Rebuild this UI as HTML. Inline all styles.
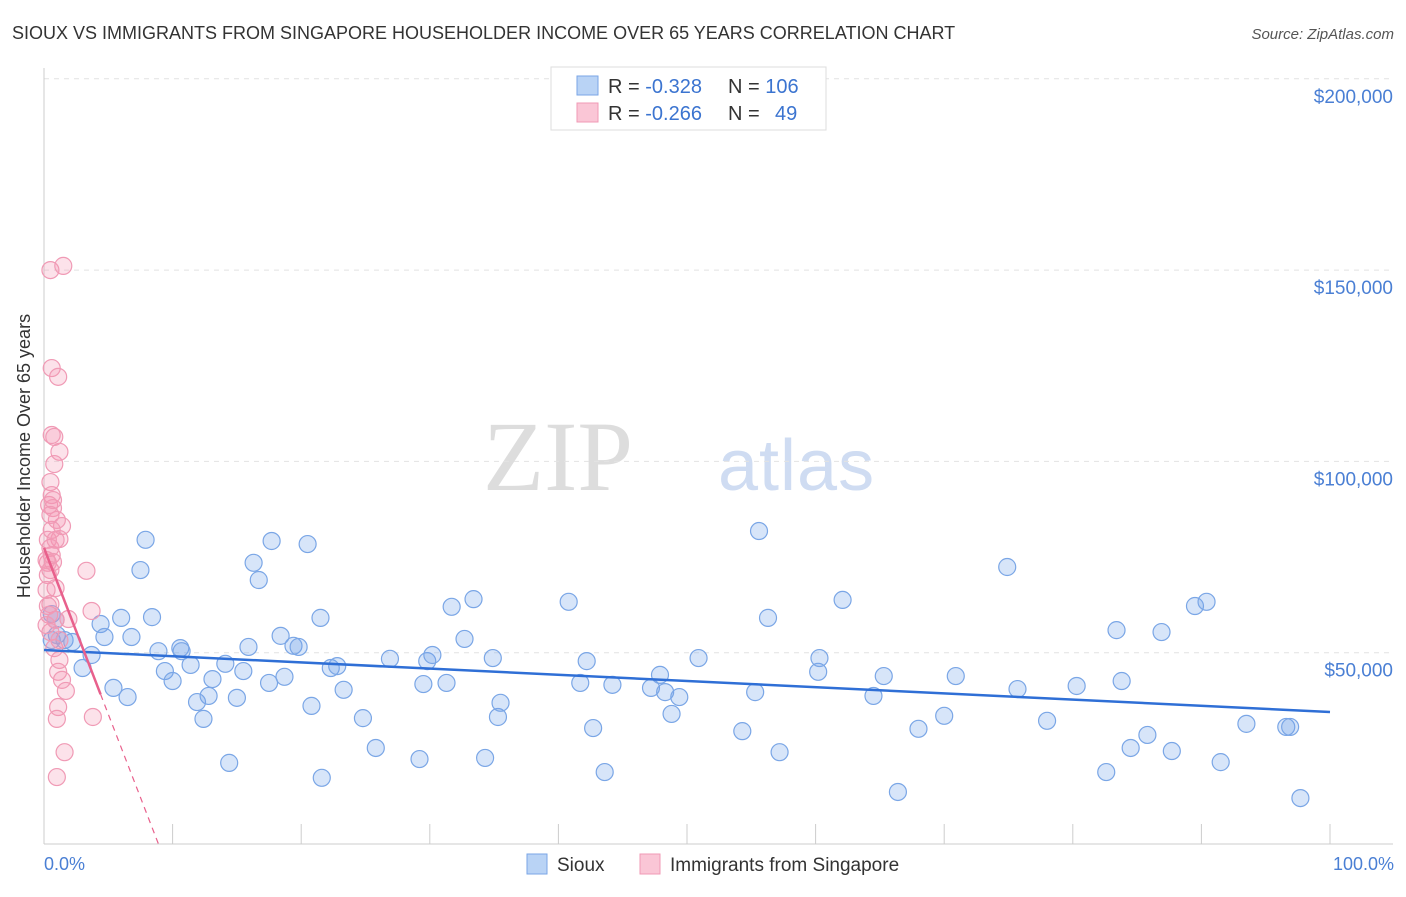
<!DOCTYPE html>
<html><head><meta charset="utf-8"><style>
body{margin:0;background:#fff;font-family:"Liberation Sans",sans-serif}
svg text{font-family:"Liberation Sans",sans-serif}
</style></head><body>
<svg id="chart" width="1406" height="892">
<text x="12" y="39" font-size="18" fill="#333">SIOUX VS IMMIGRANTS FROM SINGAPORE HOUSEHOLDER INCOME OVER 65 YEARS CORRELATION CHART</text>
<text x="1394" y="39" font-size="15" fill="#555" font-style="italic" text-anchor="end">Source: ZipAtlas.com</text>
<g>
<text x="633" y="490" font-size="100" fill="#ddd" text-anchor="end" font-family="Liberation Serif" style="font-family:'Liberation Serif',serif">ZIP</text>
<text x="718" y="490" font-size="72" fill="#cfdcf2" style="letter-spacing:1px">atlas</text>
</g>
<g id="grid"></g><g id="axes"></g><g id="marks"></g>
<text x="30" y="456" font-size="18" fill="#333" text-anchor="middle" transform="rotate(-90 30 456)">Householder Income Over 65 years</text>
<text x="44" y="870" font-size="18" fill="#4a7fd4">0.0%</text>
<text x="1394" y="870" font-size="18" fill="#4a7fd4" text-anchor="end">100.0%</text>
<g>
<rect x="551" y="67" width="275" height="63" fill="#fff" stroke="#ddd"/>
<rect x="577" y="76" width="21" height="19" fill="#b9d3f5" stroke="#7aa6e6"/>
<rect x="577" y="103" width="21" height="19" fill="#fac6d6" stroke="#f09ab5"/>
<text x="608" y="93" font-size="20" fill="#333">R = <tspan fill="#3b74d0">-0.328</tspan><tspan x="728">N = </tspan><tspan fill="#3b74d0">106</tspan></text>
<text x="608" y="120" font-size="20" fill="#333">R = <tspan fill="#3b74d0">-0.266</tspan><tspan x="728">N = </tspan><tspan fill="#3b74d0" x="775">49</tspan></text>
</g>
<g>
<rect x="527" y="854" width="20" height="20" fill="#b9d3f5" stroke="#7aa6e6"/>
<text x="557" y="871" font-size="19" fill="#333">Sioux</text>
<rect x="640" y="854" width="20" height="20" fill="#fac6d6" stroke="#f09ab5"/>
<text x="670" y="871" font-size="19" fill="#333">Immigrants from Singapore</text>
</g>
</svg>
<script>
const yTicks=[50000,100000,150000,200000];
const yTickLabels=["$50,000","$100,000","$150,000","$200,000"];
const xTicks=[0,10,20,30,40,50,60,70,80,90,100];
const siouxX=[0.6,1.0,1.6,2.2,3.0,3.7,4.4,4.7,5.4,6.0,6.5,6.8,7.5,7.9,8.4,8.9,9.4,10.0,10.6,10.7,11.4,11.9,12.4,12.8,13.1,14.1,14.4,15.0,15.5,15.9,16.3,16.7,17.5,17.7,18.4,18.7,19.4,19.8,20.5,20.8,21.5,21.6,22.3,22.8,23.3,24.8,25.8,26.9,29.2,29.5,29.8,30.2,31.3,31.7,32.7,33.4,34.3,34.9,35.3,35.5,40.8,41.7,42.2,42.7,43.6,44.2,47.2,47.9,48.3,48.8,49.4,50.9,54.3,55.3,55.6,56.3,57.2,60.2,60.3,62.1,64.5,65.3,66.4,68.0,70.0,70.9,74.9,75.7,78.0,80.3,82.6,83.4,83.8,84.5,85.8,86.9,87.7,89.5,90.4,91.5,93.5,96.6,96.9,97.7,0.6,0.9];
const siouxY=[53.3,54.6,53.3,52.8,46.0,49.4,57.5,54.1,40.8,59.1,38.4,54.1,71.6,79.5,59.3,50.4,45.2,42.6,51.2,50.4,46.8,37.1,32.7,38.7,43.1,47.1,21.2,38.2,45.2,51.5,73.5,69.0,42.1,79.2,54.4,43.7,51.8,51.5,78.4,36.1,59.1,17.3,46.0,46.5,40.3,32.9,25.1,48.4,22.2,41.8,47.8,49.4,42.1,62.0,53.6,64.0,22.5,48.6,33.2,36.9,63.3,42.1,47.8,30.3,18.8,41.6,40.8,44.2,39.7,34.0,38.4,48.6,29.5,39.7,81.8,59.1,24.0,45.0,48.6,63.8,38.7,43.9,13.6,30.1,33.5,43.9,72.4,40.5,32.2,41.3,18.8,55.9,42.6,25.1,28.5,55.4,24.3,62.2,63.3,21.4,31.4,30.6,30.6,12.0,60.1,58.6];
const singX=[0.5,1.5,0.6,1.1,0.6,0.8,1.2,0.8,0.5,0.6,0.4,0.7,1.4,1.0,1.2,0.3,0.5,0.6,0.3,0.7,0.3,3.3,0.9,3.7,0.5,0.9,1.9,0.5,0.8,1.2,1.1,1.4,1.7,1.1,1.0,3.8,1.6,1.0,0.3,0.2,0.6,0.9,0.2,0.4,1.2,0.2,0.5,0.7,0.5];
const singY=[150.0,151.1,124.4,122.1,106.9,106.4,102.5,99.3,94.6,91.2,88.6,87.8,83.1,84.7,79.7,79.5,77.4,75.5,73.5,73.7,70.3,71.4,66.9,60.9,62.7,58.6,58.8,55.4,51.2,53.3,45.0,42.9,40.0,35.8,32.7,33.2,24.0,17.5,62.2,74.2,82.1,79.5,66.4,59.9,48.1,57.2,71.6,89.9,86.0];
const siouxTrend=[50.7,34.5]; // value at 0% and 100% (k$)
const singTrend=[77.4,0,8.9,4.4]; // value at 0%, zero at x%, solid until x%
const X=p=>44+p*12.86, Y=v=>844-v*3.826; // v in $k
const ns="http://www.w3.org/2000/svg";
function el(t,a,parent){const e=document.createElementNS(ns,t);for(const k in a)e.setAttribute(k,a[k]);document.getElementById(parent).appendChild(e);return e;}
yTicks.forEach((t,i)=>{
 const g=el('line',{x1:44,x2:1393,y1:Y(t/1000),y2:Y(t/1000),stroke:'#e2e2e2','stroke-dasharray':'5,5'},'grid');
 
 
 const tx=el('text',{x:1393,y:Y(t/1000)+24,'font-size':19,fill:'#4a7fd4','text-anchor':'end'},'axes');
 tx.textContent=yTickLabels[i];
 
 
});
const ax=el('line',{x1:44,x2:44,y1:68,y2:844,stroke:'#ccc'},'axes');


const bx=el('line',{x1:44,x2:1393,y1:844,y2:844,stroke:'#ccc'},'axes');


xTicks.forEach(t=>{const l=el('line',{x1:X(t),x2:X(t),y1:824,y2:844,stroke:'#ccc'},'axes');
 
 });
siouxX.forEach((x,i)=>{const c=el('circle',{cx:X(x),cy:Y(siouxY[i]),r:8.5,fill:'rgba(110,160,235,0.28)',stroke:'#7aa6e6','stroke-width':1.2},'marks');
 
 });
singX.forEach((x,i)=>{const c=el('circle',{cx:X(x),cy:Y(singY[i]),r:8.5,fill:'rgba(245,150,180,0.28)',stroke:'#f09ab5','stroke-width':1.2},'marks');
 
 });
const t1=el('line',{x1:X(0),y1:Y(siouxTrend[0]),x2:X(100),y2:Y(siouxTrend[1]),stroke:'#2f6fd6','stroke-width':2.5},'marks');


const slope=-singTrend[0]/singTrend[2];
const t2=el('line',{x1:X(0),y1:Y(singTrend[0]),x2:X(singTrend[3]),y2:Y(singTrend[0]+slope*singTrend[3]),stroke:'#e8608c','stroke-width':2.5},'marks');


const t3=el('line',{x1:X(singTrend[3]),y1:Y(singTrend[0]+slope*singTrend[3]),x2:X(singTrend[2]),y2:Y(0),stroke:'#e8608c','stroke-width':1.2,'stroke-dasharray':'6,5'},'marks');


</script>
</body></html>
